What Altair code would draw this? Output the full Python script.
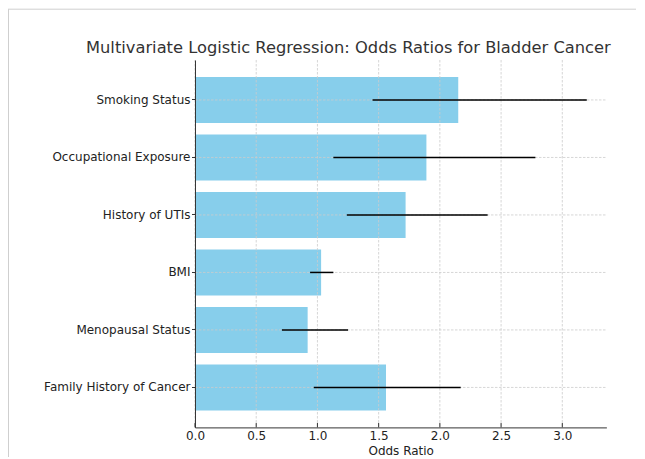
import altair as alt
import pandas as pd

factors = ["Smoking Status", "Occupational Exposure", "History of UTIs", "BMI",
           "Menopausal Status", "Family History of Cancer"]
odds_ratio = [2.15, 1.89, 1.72, 1.03, 0.92, 1.56]
ci_low = [1.45, 1.13, 1.24, 0.94, 0.71, 0.97]
ci_high = [3.20, 2.78, 2.39, 1.13, 1.25, 2.17]
x_ticks = [0.0, 0.5, 1.0, 1.5, 2.0, 2.5, 3.0]

W = 411.4
H = 367.4
FONT = "DejaVu Sans"
GRID = dict(color="#cccccc", strokeWidth=0.8, strokeDash=[2.5, 1.5])

df = pd.DataFrame({"factor": factors, "or": odds_ratio, "lo": ci_low, "hi": ci_high})
ticks_df = pd.DataFrame({"t": x_ticks})

xscale = alt.Scale(domain=[0, 3.36], nice=False, zero=True)
yscale = alt.Scale(domain=factors, paddingInner=0.2, paddingOuter=0.295)

x_axis = alt.Axis(values=x_ticks, format=".1f", title="Odds Ratio", grid=False,
                  tickSize=0, labelPadding=3, labelFontSize=12, labelColor="#222",
                  labelFlush=False,
                  titleFontSize=12, titleColor="#222", titleFontWeight="normal",
                  titleBaseline="alphabetic", titleY=27.5,
                  domainColor="#333", domainWidth=1, zindex=1)
y_axis = alt.Axis(title=None, grid=False, bandPosition=0.5, tickSize=3.5, tickColor="#333",
                  labelPadding=1.5, labelFontSize=12, labelColor="#222",
                  domainColor="#333", domainWidth=1, zindex=1)

bars = alt.Chart(df).mark_bar(color="#87CEEB").encode(
    x=alt.X("or:Q", scale=xscale, axis=x_axis),
    y=alt.Y("factor:N", scale=yscale, axis=y_axis, sort=factors),
)

vgrid = alt.Chart(ticks_df).mark_rule(**GRID).encode(
    x=alt.X("t:Q", scale=xscale),
    y=alt.value(0),
    y2=alt.value(H),
)
hgrid = alt.Chart(df).mark_rule(**GRID).encode(
    y=alt.Y("factor:N", scale=yscale, sort=factors),
    x=alt.value(0),
    x2=alt.value(W),
)

err = alt.Chart(df).mark_rule(color="black", strokeWidth=1.5).encode(
    x=alt.X("lo:Q", scale=xscale),
    x2="hi:Q",
    y=alt.Y("factor:N", scale=yscale, sort=factors),
)

inticks = alt.Chart(ticks_df).mark_rule(color="#333", strokeWidth=1).encode(
    x=alt.X("t:Q", scale=xscale),
    y=alt.value(H),
    y2=alt.value(H - 4.5),
)

frame_top = alt.Chart(ticks_df.head(1)).mark_rule(color="#cfcfcf", strokeWidth=1).encode(
    x=alt.value(-187), x2=alt.value(W + 30), y=alt.value(-50.8)
)
frame_left = alt.Chart(ticks_df.head(1)).mark_rule(color="#cfcfcf", strokeWidth=1).encode(
    x=alt.value(-186.5), y=alt.value(-50.8), y2=alt.value(H + 30)
)

chart = alt.layer(frame_top, frame_left, bars, vgrid, hgrid, err, inticks).properties(
    width=W, height=H,
    title=alt.TitleParams(
        "Multivariate Logistic Regression: Odds Ratios for Bladder Cancer",
        anchor="start", frame="group", dx=-109, offset=-61, baseline="alphabetic",
        fontSize=16.3, font=FONT, fontWeight="normal", color="#333",
    ),
    padding={"left": 187, "top": 52, "right": 30, "bottom": 30},
    autosize=alt.AutoSizeParams(type="none"),
).configure(font=FONT).configure_view(stroke=None)

chart.save("out.html", embed_options={"renderer": "svg", "actions": False})
